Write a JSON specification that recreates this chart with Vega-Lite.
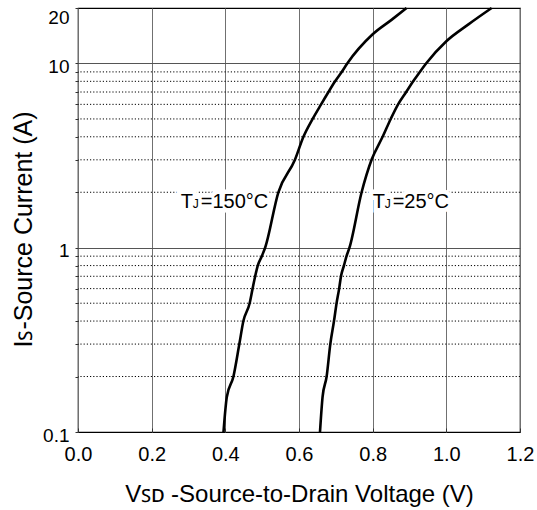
{
  "$schema": "https://vega.github.io/schema/vega-lite/v6.json",
  "width": 442,
  "height": 424,
  "autosize": "none",
  "padding": {"left": 78, "top": 8, "right": 17, "bottom": 78},
  "background": "white",
  "config": {
    "font": "Liberation Sans",
    "view": {"stroke": "black", "strokeWidth": 1.2},
    "axis": {"domain": false, "labelFont": "Liberation Sans", "titleFont": "Liberation Sans", "labelColor": "black", "titleColor": "black", "titleFontWeight": "normal", "labelFlush": false}
  },
  "datasets": {
    "curves": [
      {"temp": "150", "v": 0.395, "i": 0.1},
      {"temp": "150", "v": 0.404, "i": 0.155},
      {"temp": "150", "v": 0.422, "i": 0.2},
      {"temp": "150", "v": 0.438, "i": 0.3},
      {"temp": "150", "v": 0.449, "i": 0.4},
      {"temp": "150", "v": 0.466, "i": 0.5},
      {"temp": "150", "v": 0.474, "i": 0.6},
      {"temp": "150", "v": 0.481, "i": 0.7},
      {"temp": "150", "v": 0.488, "i": 0.8},
      {"temp": "150", "v": 0.499, "i": 0.9},
      {"temp": "150", "v": 0.508, "i": 1},
      {"temp": "150", "v": 0.544, "i": 2},
      {"temp": "150", "v": 0.589, "i": 3},
      {"temp": "150", "v": 0.612, "i": 4},
      {"temp": "150", "v": 0.637, "i": 5},
      {"temp": "150", "v": 0.66, "i": 6},
      {"temp": "150", "v": 0.68, "i": 7},
      {"temp": "150", "v": 0.698, "i": 8},
      {"temp": "150", "v": 0.716, "i": 9},
      {"temp": "150", "v": 0.731, "i": 10},
      {"temp": "150", "v": 0.8, "i": 14.4},
      {"temp": "150", "v": 0.852, "i": 17.3},
      {"temp": "150", "v": 0.892, "i": 20},
      {"temp": "25", "v": 0.657, "i": 0.1},
      {"temp": "25", "v": 0.664, "i": 0.155},
      {"temp": "25", "v": 0.675, "i": 0.2},
      {"temp": "25", "v": 0.685, "i": 0.3},
      {"temp": "25", "v": 0.695, "i": 0.4},
      {"temp": "25", "v": 0.702, "i": 0.5},
      {"temp": "25", "v": 0.709, "i": 0.6},
      {"temp": "25", "v": 0.714, "i": 0.7},
      {"temp": "25", "v": 0.722, "i": 0.8},
      {"temp": "25", "v": 0.729, "i": 0.9},
      {"temp": "25", "v": 0.737, "i": 1},
      {"temp": "25", "v": 0.77, "i": 2},
      {"temp": "25", "v": 0.797, "i": 3},
      {"temp": "25", "v": 0.827, "i": 4},
      {"temp": "25", "v": 0.849, "i": 5},
      {"temp": "25", "v": 0.869, "i": 6},
      {"temp": "25", "v": 0.891, "i": 7},
      {"temp": "25", "v": 0.91, "i": 8},
      {"temp": "25", "v": 0.928, "i": 9},
      {"temp": "25", "v": 0.945, "i": 10},
      {"temp": "25", "v": 1.0, "i": 13.2},
      {"temp": "25", "v": 1.06, "i": 16.3},
      {"temp": "25", "v": 1.123, "i": 20}
    ],
    "minor": [
      {"i": 0.2}, {"i": 0.3}, {"i": 0.4}, {"i": 0.5}, {"i": 0.6}, {"i": 0.7}, {"i": 0.8}, {"i": 0.9},
      {"i": 2}, {"i": 3}, {"i": 4}, {"i": 5}, {"i": 6}, {"i": 7}, {"i": 8}, {"i": 9}
    ],
    "labels": [
      {"v": 0.279, "i": 1.64, "t": "T", "sub": "J", "rest": "=150°C"},
      {"v": 0.8, "i": 1.64, "t": "T", "sub": "J", "rest": "=25°C"}
    ]
  },
  "layer": [
    {
      "data": {"name": "minor"},
      "mark": {"type": "rule", "color": "#000", "strokeWidth": 1, "strokeDash": [1.2, 2]},
      "encoding": {"y": {"field": "i", "type": "quantitative", "scale": {"type": "log", "domain": [0.1, 20], "nice": false}}}
    },
    {
      "data": {"name": "curves"},
      "mark": {"type": "line", "color": "black", "strokeWidth": 2.6, "interpolate": "monotone"},
      "encoding": {
        "detail": {"field": "temp"},
        "order": {"field": "i", "type": "quantitative"},
        "x": {
          "field": "v", "type": "quantitative",
          "scale": {"domain": [0, 1.2], "nice": false, "zero": false},
          "axis": {
            "values": [0, 0.1, 0.2, 0.3, 0.4, 0.5, 0.6, 0.7, 0.8, 0.9, 1.0, 1.1, 1.2],
            "format": ".1f",
            "labelExpr": "round(datum.value*10)%2==0 ? datum.label : ''",
            "labelFontSize": 20,
            "tickSize": -4,
            "tickColor": "#333",
            "labelPadding": 16,
            "grid": true,
            "gridColor": "#707070",
            "gridWidth": 1,
            "gridOpacity": {"condition": {"test": "round(datum.value*10)%2==1", "value": 0}, "value": 1},
            "title": "Vꜱᴅ -Source-to-Drain Voltage (V)",
            "titleFontSize": 24,
            "titleBaseline": "alphabetic",
            "titleY": 69
          }
        },
        "y": {
          "field": "i", "type": "quantitative",
          "scale": {"type": "log", "domain": [0.1, 20], "nice": false},
          "axis": {
            "values": [0.1, 0.2, 0.3, 0.4, 0.5, 0.6, 0.7, 0.8, 0.9, 1, 2, 3, 4, 5, 6, 7, 8, 9, 10, 20],
            "format": "~g",
            "labelExpr": "(datum.value==0.1||datum.value==1||datum.value==10||datum.value==20) ? datum.label : ''",
            "labelFontSize": 19,
            "labelBaseline": {"condition": {"test": "datum.value==20", "value": "top"}, "value": "middle"},
            "labelOffset": {"condition": {"test": "datum.value==20", "value": 0}, "value": 3},
            "tickSize": 3,
            "tickColor": "#333",
            "labelPadding": 6,
            "grid": true,
            "gridColor": "#555",
            "gridOpacity": {"condition": {"test": "datum.value==1||datum.value==10", "value": 1}, "value": 0},
            "gridWidth": 1,
            "title": "Iꜱ-Source Current (A)",
            "titleFontSize": 25,
            "titlePadding": 6,
            "titleY": 221
          }
        }
      }
    },
    {
      "data": {"name": "labels"},
      "encoding": {"x": {"field": "v", "type": "quantitative"}, "y": {"field": "i", "type": "quantitative"}},
      "layer": [
        {
          "mark": {"type": "text", "align": "left", "baseline": "alphabetic", "fontSize": 20, "fill": "white", "stroke": "white", "strokeWidth": 9},
          "encoding": {"text": {"field": "t"}}
        },
        {
          "mark": {"type": "text", "align": "left", "baseline": "alphabetic", "fontSize": 20, "dx": 20, "fill": "white", "stroke": "white", "strokeWidth": 9},
          "encoding": {"text": {"field": "rest"}}
        },
        {
          "mark": {"type": "text", "align": "left", "baseline": "alphabetic", "fontSize": 20, "fill": "black"},
          "encoding": {"text": {"field": "t"}}
        },
        {
          "mark": {"type": "text", "align": "left", "baseline": "alphabetic", "fontSize": 12, "dx": 12, "fill": "black"},
          "encoding": {"text": {"field": "sub"}}
        },
        {
          "mark": {"type": "text", "align": "left", "baseline": "alphabetic", "fontSize": 20, "dx": 20, "fill": "black"},
          "encoding": {"text": {"field": "rest"}}
        }
      ]
    }
  ]
}
